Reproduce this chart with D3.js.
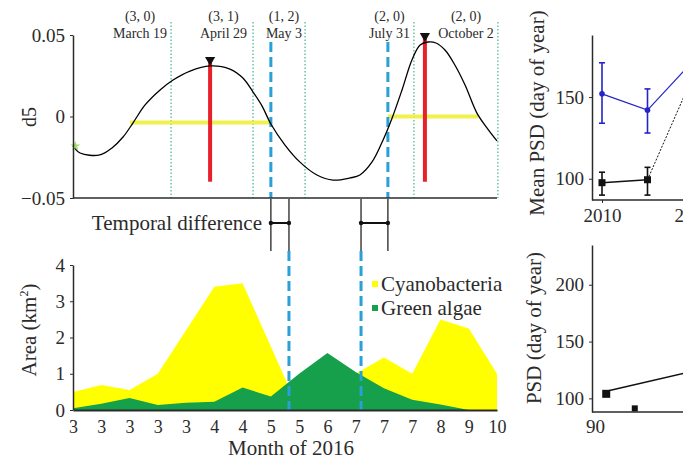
<!DOCTYPE html>
<html><head><meta charset="utf-8">
<script src="https://cdn.jsdelivr.net/npm/d3@7"></script>
<style>
body{margin:0;background:#fff}
svg{display:block;font-family:"Liberation Serif","Times New Roman",serif}
svg text{font-family:"Liberation Serif","Times New Roman",serif}
</style>
</head><body>
<svg id="c" width="683" height="459"></svg>
<script>
// ---------- data ----------
// bottom-left: area time series (one value per image date)
const months = ["3","3","3","3","3","4","4","5","5","6","7","7","7","8","9","10"];
const cyanobacteria = [0.5,0.69,0.55,1.0,2.2,3.4,3.5,1.75,0.0,0.9,1.0,1.45,1.0,2.5,2.25,1.0];
const greenAlgae    = [0.05,0.17,0.33,0.14,0.2,0.23,0.62,0.37,1.0,1.57,1.05,0.6,0.28,0.15,0.0,0.0];

// top-left: d5 detail signal (position in image-date index units, value)
const d5T = [0,0.25,0.95,1.38,1.77,2.12,2.55,3.08,3.54,4.14,4.85,5.55,6.01,6.37,6.69,7.0,7.5,8.03,8.63,9.2,9.8,10.15,10.58,10.97,11.29,11.64,11.99,12.28,12.56,12.84,13.16,13.51,13.87,14.29,14.65,15.0];
const d5V = [-0.0181,-0.0224,-0.0236,-0.0193,-0.0126,-0.004,0.0071,0.0163,0.0224,0.0279,0.031,0.0291,0.0236,0.015,0.0064,-0.0046,-0.0175,-0.028,-0.0359,-0.039,-0.0377,-0.0359,-0.0279,-0.0144,-0.0009,0.0163,0.0347,0.0439,0.0457,0.0451,0.0408,0.0316,0.0193,0.0021,-0.0071,-0.015];

const eventT     = [3.47,6.37,8.21,12.06,15.03];
const eventCodes = ["(3, 0)","(3, 1)","(1, 2)","(2, 0)","(2, 0)"];
const eventDates = ["March 19","April 29","May 3","July 31","October 2"];
const eventGap   = [4,6,3,4,4];

const peakT = [4.85,12.45];
const peakV = [0.031,0.0457];
const peakBottom = -0.04;

const levelStart = [2.02,11.14];
const levelEnd   = [7.0,14.33];
const levelValue = [-0.0037,0.0];

const shiftTop    = [7.0,11.14];
const shiftBottom = [7.64,10.19];

// top-right: mean PSD by year
const years    = [2010,2012,2014];
const blueMean = [152,142,172];
const blueLo   = [134,128,null];
const blueHi   = [171,155,null];
const blackMean= [97.6,99.4,163];
const blackLo  = [90,90,null];
const blackHi  = [104,107,null];

// bottom-right: scatter
const scatX = [91.1,93.9];
const scatY = [104,91.2];
const fitX  = [91,102];
const fitY  = [106,129];

// ---------- drawing ----------
const svg = d3.select("#c");
const ink = "#2b2b2b";
const tickFont = 19;
const serif = "Liberation Serif";

function styleAxis(g, size){
  g.selectAll("text").attr("font-size",size||tickFont).attr("font-family",serif).attr("fill",ink);
  g.select(".domain").attr("stroke",ink).attr("stroke-width",1.5);
  g.selectAll(".tick line").attr("stroke",ink);
}

// ===== top-left panel =====
const xT = d3.scaleLinear().domain([0,15]).range([73,497]);
const yT = d3.scaleLinear().domain([-0.05,0.05]).range([198,35]);

// dotted event lines
svg.append("g").selectAll("line").data(eventT).join("line")
  .attr("x1",d=>xT(d)).attr("x2",d=>xT(d)).attr("y1",22).attr("y2",198)
  .attr("stroke","#74c6ab").attr("stroke-width",1.6).attr("stroke-dasharray","1.5,2");

// event labels
eventT.forEach((t,i)=>{
  const xr = xT(t)-eventGap[i];
  const dt = svg.append("text").attr("x",xr).attr("y",38).attr("text-anchor","end")
    .attr("font-size",14).attr("fill",ink).text(eventDates[i]);
  const w = dt.node().getComputedTextLength();
  svg.append("text").attr("x",xr-w/2).attr("y",21).attr("text-anchor","middle")
    .attr("font-size",14).attr("fill",ink).text(eventCodes[i]);
});

// yellow level lines
levelStart.forEach((s,i)=>{
  svg.append("line").attr("x1",xT(s)).attr("x2",xT(levelEnd[i]))
    .attr("y1",yT(levelValue[i])).attr("y2",yT(levelValue[i]))
    .attr("stroke","#f0f03a").attr("stroke-width",4).attr("opacity",0.9);
});

// red peak lines + triangles
peakT.forEach((t,i)=>{
  svg.append("line").attr("x1",xT(t)).attr("x2",xT(t))
    .attr("y1",yT(peakV[i])-5).attr("y2",yT(peakBottom))
    .attr("stroke","#e8202a").attr("stroke-width",4);
  svg.append("path").attr("d",d3.symbol(d3.symbolTriangle,45)())
    .attr("transform",`translate(${xT(t)},${yT(peakV[i])-6}) rotate(180)`).attr("fill","#111");
});

// blue dashed lines (top)
svg.append("g").selectAll("line").data(shiftTop).join("line")
  .attr("x1",d=>xT(d)).attr("x2",d=>xT(d)).attr("y1",42).attr("y2",198)
  .attr("stroke","#2a9fd8").attr("stroke-width",3).attr("stroke-dasharray","10,5");

// d5 curve
const d5line = d3.line().x(i=>xT(d5T[i])).y(i=>yT(d5V[i])).curve(d3.curveCatmullRom.alpha(0.5));
svg.append("path").attr("d",d5line(d3.range(d5T.length)))
  .attr("fill","none").attr("stroke","#000").attr("stroke-width",1.3);
svg.append("path").attr("d",d3.symbol(d3.symbolStar,30)())
  .attr("transform",`translate(${xT(0.08)},${yT(d5V[0])})`).attr("fill","#9ede6c");

// axes
const axT = svg.append("g").attr("transform","translate(73,0)")
  .call(d3.axisLeft(yT).tickValues([-0.05,0,0.05]).tickSize(3).tickSizeOuter(0).tickPadding(5)
    .tickFormat(d=>d===0?"0":d3.format(".2f")(d)));
styleAxis(axT);
svg.append("line").attr("x1",73).attr("x2",497).attr("y1",198).attr("y2",198)
  .attr("stroke",ink).attr("stroke-width",1.5);
svg.append("text").attr("transform","translate(36,117) rotate(-90)").attr("text-anchor","middle")
  .attr("font-size",20).attr("fill",ink).text("d5");

// ===== temporal difference brackets =====
const xB = d3.scaleLinear().domain([0,15]).range([73,497]);
shiftTop.forEach((t,i)=>{
  const a = xT(Math.min(t,shiftBottom[i])), b = xT(Math.max(t,shiftBottom[i]));
  [a,b].forEach(x=>svg.append("line").attr("x1",x).attr("x2",x).attr("y1",199).attr("y2",251)
    .attr("stroke","#333").attr("stroke-width",1.4));
  svg.append("line").attr("x1",a).attr("x2",b).attr("y1",223).attr("y2",223)
    .attr("stroke","#111").attr("stroke-width",2);
  [a,b].forEach(x=>svg.append("circle").attr("cx",x).attr("cy",223).attr("r",2.2).attr("fill","#111"));
});
svg.append("text").attr("x",262).attr("y",230).attr("text-anchor","end")
  .attr("font-size",21).attr("fill",ink).text("Temporal difference");

// ===== bottom-left panel =====
const yB = d3.scaleLinear().domain([0,4]).range([410,265]);
const area = d3.area().x((d,i)=>xB(i)).y0(yB(0)).y1(d=>yB(d));
svg.append("path").attr("d",area(cyanobacteria)).attr("fill","#ffff00");
svg.append("path").attr("d",area(greenAlgae)).attr("fill","#16a04b");

svg.append("g").selectAll("line").data(shiftBottom).join("line")
  .attr("x1",d=>xB(d)).attr("x2",d=>xB(d)).attr("y1",251).attr("y2",410)
  .attr("stroke","#2a9fd8").attr("stroke-width",3).attr("stroke-dasharray","10,5");

const axBL = svg.append("g").attr("transform","translate(73,0)")
  .call(d3.axisLeft(yB).tickValues([0,1,2,3,4]).tickSize(3).tickSizeOuter(0).tickPadding(5).tickFormat(d3.format("d")));
styleAxis(axBL);
const axBB = svg.append("g").attr("transform","translate(0,410)")
  .call(d3.axisBottom(xB).tickValues(d3.range(months.length)).tickSize(0).tickPadding(10).tickFormat(i=>months[i]));
styleAxis(axBB, 18);
axBB.select(".domain").attr("stroke-width",1.8);

svg.append("text").attr("x",291).attr("y",455).attr("text-anchor","middle")
  .attr("font-size",21).attr("fill",ink).text("Month of 2016");
const yl = svg.append("text").attr("transform","translate(36,330) rotate(-90)").attr("text-anchor","middle")
  .attr("font-size",21).attr("fill",ink);
yl.append("tspan").text("Area (km");
yl.append("tspan").attr("font-size",12).attr("dy",-8).text("2");
yl.append("tspan").attr("dy",8).text(")");

// legend
const legNames = ["Cyanobacteria","Green algae"];
const legCols = ["#ffff00","#16a04b"];
legNames.forEach((n,i)=>{
  const y = 284 + i*24;
  svg.append("rect").attr("x",372).attr("y",y-3).attr("width",6).attr("height",6).attr("fill",legCols[i]);
  svg.append("text").attr("x",381).attr("y",y+7).attr("font-size",21).attr("fill",ink).text(n);
});

// ===== top-right panel =====
const xR = d3.scaleLinear().domain([2010,2014]).range([602,693]);
const yR = d3.scaleLinear().domain([87,188]).range([200,35]);
const axR = svg.append("g").attr("transform","translate(592,0)")
  .call(d3.axisLeft(yR).tickValues([100,150]).tickSize(3).tickSizeOuter(0).tickPadding(5));
styleAxis(axR);
const axRB = svg.append("g").attr("transform","translate(0,200)")
  .call(d3.axisBottom(xR).tickValues([2010,2014]).tickSize(3).tickPadding(6).tickFormat(d3.format("d")));
axRB.select(".domain").remove();
styleAxis(axRB);
svg.append("line").attr("x1",592).attr("x2",700).attr("y1",200).attr("y2",200).attr("stroke",ink).attr("stroke-width",1.5);
svg.append("text").attr("transform","translate(544,113) rotate(-90)").attr("text-anchor","middle")
  .attr("font-size",21).attr("fill",ink).text("Mean PSD (day of year)");

// blue series
svg.append("path").attr("d",d3.line().x((d,i)=>xR(years[i])).y(d=>yR(d))(blueMean))
  .attr("fill","none").attr("stroke","#2424c8").attr("stroke-width",1.2);
years.forEach((yv,i)=>{
  if(blueLo[i]==null) return;
  const x=xR(yv);
  svg.append("line").attr("x1",x).attr("x2",x).attr("y1",yR(blueLo[i])).attr("y2",yR(blueHi[i])).attr("stroke","#2424c8").attr("stroke-width",1.6);
  [blueLo[i],blueHi[i]].forEach(v=>svg.append("line").attr("x1",x-3).attr("x2",x+3).attr("y1",yR(v)).attr("y2",yR(v)).attr("stroke","#2424c8").attr("stroke-width",1.6));
  svg.append("circle").attr("cx",x).attr("cy",yR(blueMean[i])).attr("r",2.8).attr("fill","#2424c8");
});
// black series
svg.append("line").attr("x1",xR(years[0])).attr("x2",xR(years[1])).attr("y1",yR(blackMean[0])).attr("y2",yR(blackMean[1]))
  .attr("stroke","#111").attr("stroke-width",1.5);
svg.append("line").attr("x1",xR(years[1])).attr("x2",xR(years[2])).attr("y1",yR(blackMean[1])).attr("y2",yR(blackMean[2]))
  .attr("stroke","#111").attr("stroke-width",1).attr("stroke-dasharray","2,1.5");
years.forEach((yv,i)=>{
  if(blackLo[i]==null) return;
  const x=xR(yv);
  svg.append("line").attr("x1",x).attr("x2",x).attr("y1",yR(blackLo[i])).attr("y2",yR(blackHi[i])).attr("stroke","#111").attr("stroke-width",1.6);
  [blackLo[i],blackHi[i]].forEach(v=>svg.append("line").attr("x1",x-3).attr("x2",x+3).attr("y1",yR(v)).attr("y2",yR(v)).attr("stroke","#111").attr("stroke-width",1.6));
  svg.append("rect").attr("x",x-3.5).attr("y",yR(blackMean[i])-3.5).attr("width",7).attr("height",7).attr("fill","#111");
});

// ===== bottom-right panel =====
const xS = d3.scaleLinear().domain([90,100]).range([595,697]);
const yS = d3.scaleLinear().domain([88,235]).range([412,245]);
const axS = svg.append("g").attr("transform","translate(592,0)")
  .call(d3.axisLeft(yS).tickValues([100,150,200]).tickSize(3).tickSizeOuter(0).tickPadding(5));
styleAxis(axS);
const axSB = svg.append("g").attr("transform","translate(0,412)")
  .call(d3.axisBottom(xS).tickValues([90,100]).tickSize(0).tickPadding(8).tickFormat(d3.format("d")));
axSB.select(".domain").remove();
styleAxis(axSB);
svg.append("line").attr("x1",592).attr("x2",700).attr("y1",412).attr("y2",412).attr("stroke",ink).attr("stroke-width",1.5);
svg.append("text").attr("transform","translate(541,328) rotate(-90)").attr("text-anchor","middle")
  .attr("font-size",21).attr("fill",ink).text("PSD (day of year)");
svg.append("line").attr("x1",xS(fitX[0])).attr("x2",xS(fitX[1])).attr("y1",yS(fitY[0])).attr("y2",yS(fitY[1]))
  .attr("stroke","#111").attr("stroke-width",1.4);
scatX.forEach((x,i)=>{
  const s = i===0?8:6;
  svg.append("rect").attr("x",xS(x)-s/2).attr("y",yS(scatY[i])-s/2).attr("width",s).attr("height",s).attr("fill","#111");
});
</script>
</body></html>
